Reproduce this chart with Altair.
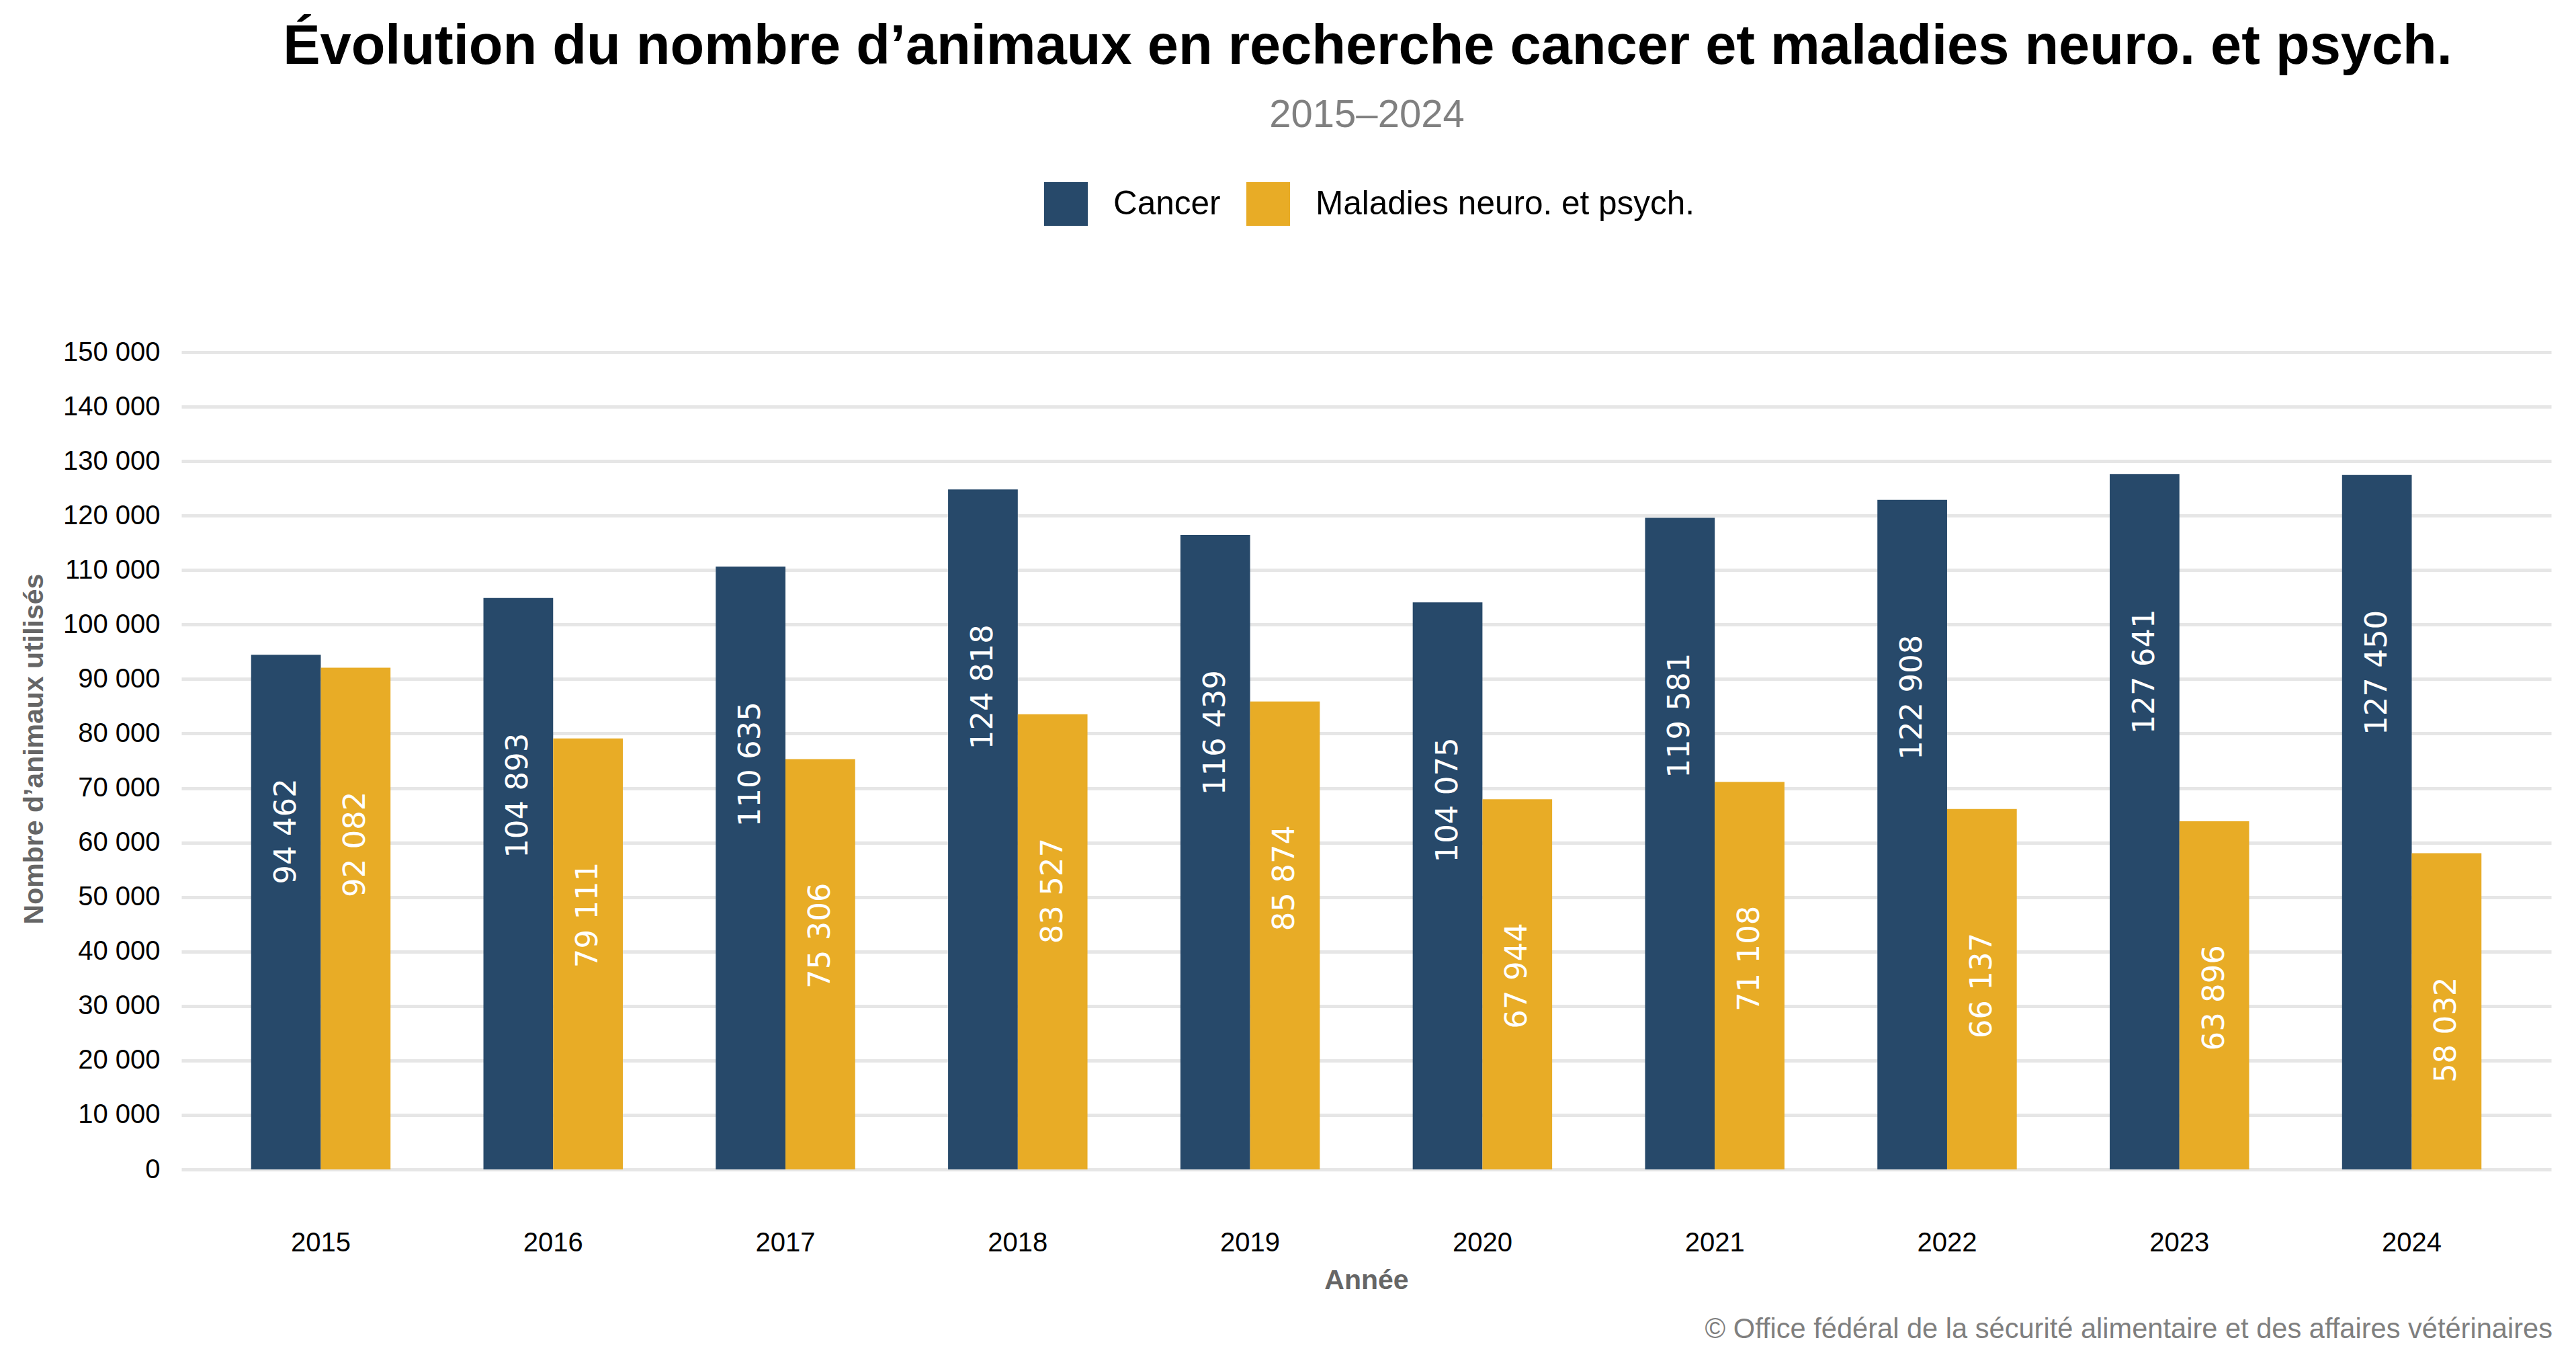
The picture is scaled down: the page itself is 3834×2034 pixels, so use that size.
import altair as alt
import pandas as pd

# ---- data -------------------------------------------------------------
years = ["2015", "2016", "2017", "2018", "2019", "2020", "2021", "2022", "2023", "2024"]
cancer = [94462, 104893, 110635, 124818, 116439, 104075, 119581, 122908, 127641, 127450]
neuro = [92082, 79111, 75306, 83527, 85874, 67944, 71108, 66137, 63896, 58032]
series_names = ["Cancer", "Maladies neuro. et psych."]
series_colors = ["#27496A", "#E8AC26"]
y_ticks = list(range(0, 150001, 10000))

TITLE = "Évolution du nombre d’animaux en recherche cancer et maladies neuro. et psych."
SUBTITLE = "2015–2024"
CAPTION = "© Office fédéral de la sécurité alimentaire et des affaires vétérinaires"
X_TITLE = "Année"
Y_TITLE = "Nombre d’animaux utilisés"

df = pd.DataFrame({
    "year": years * 2,
    "series": [series_names[0]] * len(years) + [series_names[1]] * len(years),
    "value": cancer + neuro,
})

FONT = "Liberation Sans"
W, H = 3527, 1216
FMT = "replace(format(datum.value, ',d'), ',', ' ')"

x_enc = alt.X(
    "year:N",
    sort=years,
    scale=alt.Scale(paddingInner=0, paddingOuter=0.1),
    axis=alt.Axis(
        labelAngle=0, labelFontSize=40, labelColor="#000000", labelFont=FONT,
        labelPadding=89, ticks=False, tickSize=0, domain=False, grid=False,
        title=X_TITLE, titleFontSize=41, titleFontWeight="bold", titleColor="#666666",
        titleFont=FONT, titleX=W / 2, titleY=177, titleAlign="center",
        titleBaseline="alphabetic",
    ),
)
xoff_enc = alt.XOffset(
    "series:N",
    sort=series_names,
    scale=alt.Scale(domain=series_names, paddingInner=0, paddingOuter=2 / 3),
)
y_enc = alt.Y(
    "value:Q",
    scale=alt.Scale(domain=[0, 150000], nice=False, zero=True),
    axis=alt.Axis(
        values=y_ticks, labelExpr=FMT, labelFontSize=40, labelColor="#000000",
        labelFont=FONT, labelPadding=32, ticks=False, tickSize=0, domain=False,
        grid=True, gridColor="#e6e6e6", gridWidth=5,
        title=Y_TITLE, titleFontSize=41, titleFontWeight="bold", titleColor="#666666",
        titleFont=FONT, titleAngle=270, titleAlign="center", titleBaseline="middle",
        titleX=-219, titleY=590,
    ),
)

bars = alt.Chart(df).mark_bar(opacity=1).encode(
    x=x_enc,
    xOffset=xoff_enc,
    y=y_enc,
    color=alt.Color(
        "series:N",
        sort=series_names,
        scale=alt.Scale(domain=series_names, range=series_colors),
        legend=alt.Legend(
            orient="none", legendX=1284, legendY=-253, direction="horizontal",
            title=None, symbolType="square", symbolSize=4225, symbolStrokeWidth=0,
            symbolOpacity=1, labelFontSize=49.5, labelFont=FONT, labelColor="#000000",
            labelOffset=38, columnPadding=38, labelLimit=2000, padding=0,
        ),
    ),
)


def value_labels(cond, gap):
    return (
        alt.Chart(df)
        .transform_filter(cond)
        .transform_calculate(label=FMT)
        .mark_text(angle=270, align="right", baseline="middle", dx=-gap,
                   font="DejaVu Sans", fontSize=45, color="white")
        .encode(x=alt.X("year:N", sort=years), xOffset=alt.XOffset("series:N", sort=series_names),
                y=alt.Y("value:Q"), text="label:N")
    )


labels_short = value_labels("datum.value < 100000", 184)
labels_long = value_labels("datum.value >= 100000", 201)

title = alt.Chart(pd.DataFrame({"t": [TITLE]})).mark_text(
    font=FONT, fontSize=83, fontWeight="bold", color="#000000",
    align="center", baseline="alphabetic",
).encode(text="t:N", x=alt.value(W / 2 + 2), y=alt.value(-429))

subtitle = alt.Chart(pd.DataFrame({"t": [SUBTITLE]})).mark_text(
    font=FONT, fontSize=58, color="#808080", align="center", baseline="alphabetic",
).encode(text="t:N", x=alt.value(W / 2 + 1), y=alt.value(-335))

caption = alt.Chart(pd.DataFrame({"t": [CAPTION]})).mark_text(
    font=FONT, fontSize=41.6, color="#7f7f7f", align="right", baseline="alphabetic",
).encode(text="t:N", x=alt.value(W + 2), y=alt.value(1467))

chart = (
    alt.layer(bars, labels_short, labels_long, title, subtitle, caption)
    .properties(
        width=W, height=H,
        autosize=alt.AutoSizeParams(type="none"),
        padding={"left": 262, "top": 516, "right": 25, "bottom": 270},
        background="white",
    )
    .configure_view(strokeWidth=0)
)

chart.save("out.html", embed_options={"renderer": "svg", "actions": False})
